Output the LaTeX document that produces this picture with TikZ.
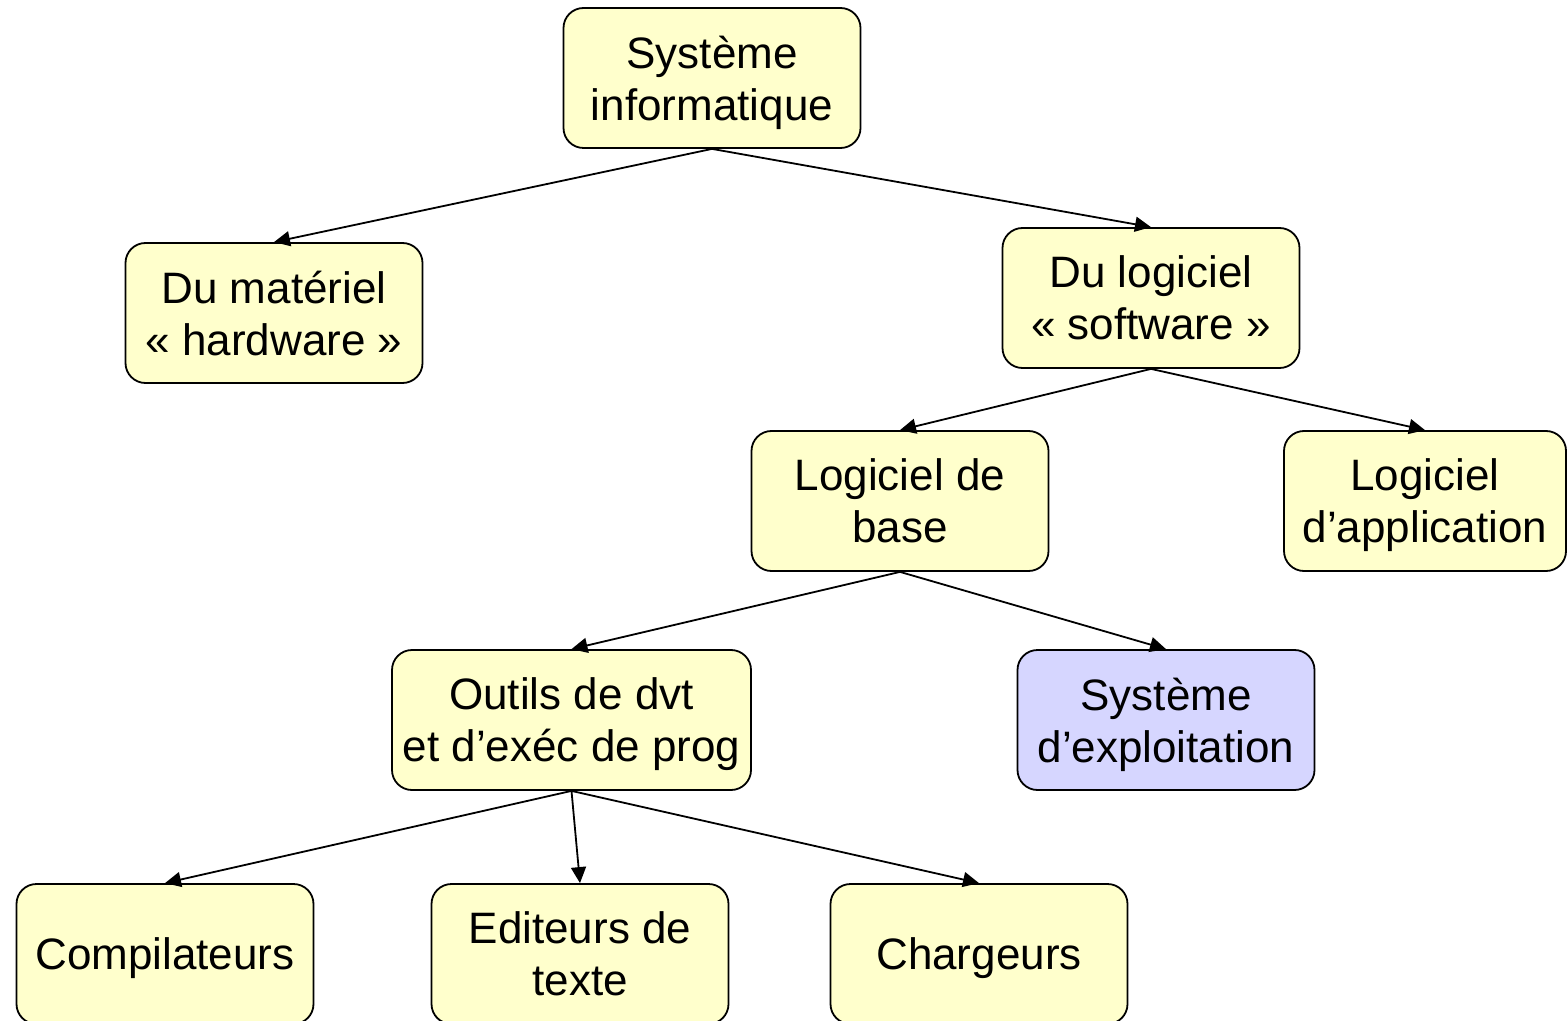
\documentclass[tikz,border=0pt]{standalone}
\usepackage{fontspec}
\setmainfont{Liberation Sans}
\usetikzlibrary{arrows.meta}
\definecolor{boxyellow}{HTML}{FFFFCC}
\definecolor{boxblue}{HTML}{D6D6FF}

\begin{document}
\begin{tikzpicture}[x=0.5pt, y=-0.5pt,
    box/.style    = {draw, fill=boxyellow, rounded corners=10pt,
      line width=0.9pt, minimum width=148.5pt, minimum height=70pt,
      inner sep=0pt, text depth=0pt, align=center,
      font=\fontsize{22}{26}\selectfont},
    os box/.style = {box, fill=boxblue},
    link/.style   = {-{Triangle[length=8pt,width=7.5pt]}, line width=0.9pt}
  ]
  \useasboundingbox (0,0) rectangle (1568,1021);
  \node[box] (sys)    at (712,78)  {Système\\informatique};
  \node[box] (hw)     at (274,313) {Du matériel\\« hardware »};
  \node[box] (sw)     at (1151,298) {Du logiciel\\« software »};
  \node[box] (base)   at (900,501) {Logiciel de\\base};
  \node[box, minimum width=141pt] (app) at (1425,501) {Logiciel\\d’application};
  \node[box, minimum width=179.5pt] (outils) at (571.5,720) {Outils de dvt\\et d’exéc de prog};
  \node[os box] (os)  at (1166,720) {Système\\d’exploitation};
  \node[box] (comp)   at (165,954) {Compilateurs};
  \node[box] (edit)   at (580,954) {Editeurs de\\texte};
  \node[box] (charg)  at (979,954) {Chargeurs};

  \draw[link] (sys.south) -- (hw.north);
  \draw[link] (sys.south) -- (sw.north);
  \draw[link] (sw.south) -- (base.north);
  \draw[link] (sw.south) -- (app.north);
  \draw[link] (base.south) -- (outils.north);
  \draw[link] (base.south) -- (os.north);
  \draw[link] (outils.south) -- (comp.north);
  \draw[link] (outils.south) -- (edit.north);
  \draw[link] (outils.south) -- (charg.north);
\end{tikzpicture}
\end{document}
